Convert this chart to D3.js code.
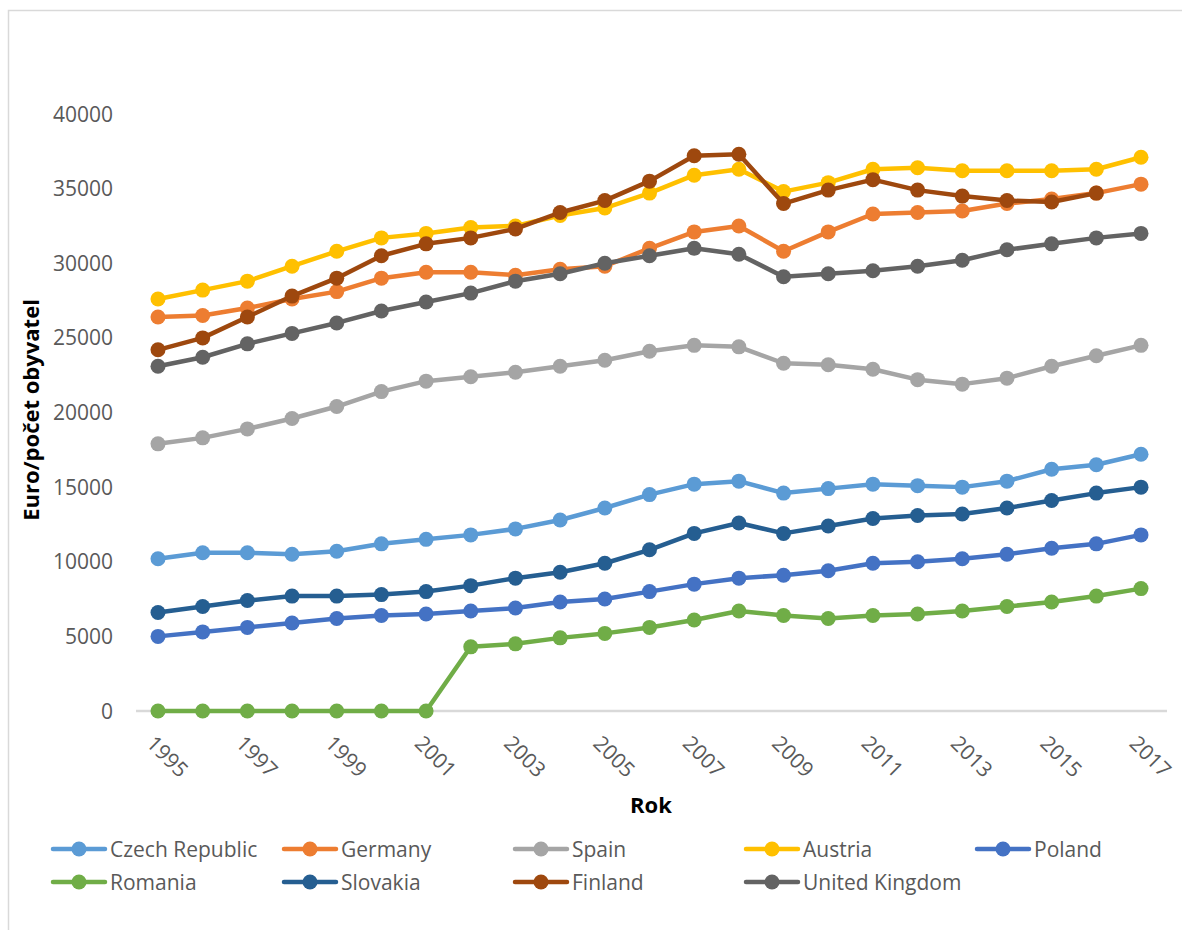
<!DOCTYPE html>
<html>
<head>
<meta charset="utf-8">
<script src="https://cdn.jsdelivr.net/npm/d3@7/dist/d3.min.js"></script>
<style>
body{
margin:0;
background:white;
font-family:"Open Sans",sans-serif;
}
</style>
</head>
<body>
<div id="chart"></div>
<script>
// years on the x axis
var years = d3.range(1995, 2018)
var tickYears = [1995,1997,1999,2001,2003,2005,2007,2009,2011,2013,2015,2017]
var yTicks = [0,5000,10000,15000,20000,25000,30000,35000,40000]

var seriesNames = ["Czech Republic","Germany","Spain","Austria","Poland","Romania","Slovakia","Finland","United Kingdom"]
var seriesColors = ["#5B9BD5","#ED7D31","#A5A5A5","#FFC000","#4472C4","#70AD47","#255E91","#9E480E","#636363"]

var czech = [10200,10600,10600,10500,10700,11200,11500,11800,12200,12800,13600,14500,15200,15400,14600,14900,15200,15100,15000,15400,16200,16500,17200]
var germany = [26400,26500,27000,27600,28100,29000,29400,29400,29200,29600,29800,31000,32100,32500,30800,32100,33300,33400,33500,34000,34300,34700,35300]
var spain = [17900,18300,18900,19600,20400,21400,22100,22400,22700,23100,23500,24100,24500,24400,23300,23200,22900,22200,21900,22300,23100,23800,24500]
var austria = [27600,28200,28800,29800,30800,31700,32000,32400,32500,33200,33700,34700,35900,36300,34800,35400,36300,36400,36200,36200,36200,36300,37100]
var poland = [5000,5300,5600,5900,6200,6400,6500,6700,6900,7300,7500,8000,8500,8900,9100,9400,9900,10000,10200,10500,10900,11200,11800]
var romania = [0,0,0,0,0,0,0,4300,4500,4900,5200,5600,6100,6700,6400,6200,6400,6500,6700,7000,7300,7700,8200]
var slovakia = [6600,7000,7400,7700,7700,7800,8000,8400,8900,9300,9900,10800,11900,12600,11900,12400,12900,13100,13200,13600,14100,14600,15000]
var finland = [24200,25000,26400,27800,29000,30500,31300,31700,32300,33400,34200,35500,37200,37300,34000,34900,35600,34900,34500,34200,34100,34700,null]
var uk = [23100,23700,24600,25300,26000,26800,27400,28000,28800,29300,30000,30500,31000,30600,29100,29300,29500,29800,30200,30900,31300,31700,32000]

var allValues = [czech,germany,spain,austria,poland,romania,slovakia,finland,uk]

var W = 1182, H = 930
var svg = d3.select("#chart").append("svg")
.attr("width",W)
.attr("height",H)

// chart border
svg.append("rect")
.attr("x",8.5).attr("y",10.5)
.attr("width",W).attr("height",H)
.attr("fill","none")
.attr("stroke","#d9d9d9")
.attr("stroke-width",1.5)

var x = d3.scaleLinear().domain([1995,2017]).range([158,1141])
var y = d3.scaleLinear().domain([0,40000]).range([711,114])

// zero baseline
svg.append("line")
.attr("x1",136).attr("x2",1167)
.attr("y1",y(0)).attr("y2",y(0))
.attr("stroke","#d9d9d9")
.attr("stroke-width",2.5)

// y tick labels
svg.selectAll(".ylab")
.data(yTicks)
.enter()
.append("text")
.attr("class","ylab")
.attr("x",113)
.attr("y",function(d){return y(d)})
.attr("dy","0.36em")
.attr("text-anchor","end")
.attr("font-size",21)
.attr("fill","#595959")
.text(function(d){return d})

// x tick labels, rotated
svg.selectAll(".xlab")
.data(tickYears)
.enter()
.append("text")
.attr("class","xlab")
.attr("transform",function(d){return "translate("+(x(d)-2)+",734) rotate(45)"})
.attr("dy","0.72em")
.attr("text-anchor","start")
.attr("font-size",21)
.attr("fill","#595959")
.text(function(d){return d})

// axis titles
svg.append("text")
.attr("transform","translate(39,410) rotate(-90)")
.attr("text-anchor","middle")
.attr("font-size",22)
.attr("font-weight","bold")
.attr("fill","black")
.text("Euro/počet obyvatel")

svg.append("text")
.attr("x",651).attr("y",813)
.attr("text-anchor","middle")
.attr("font-size",22)
.attr("font-weight","bold")
.attr("fill","black")
.text("Rok")

var line = d3.line()
.defined(function(d){return d != null})
.x(function(d,i){return x(years[i])})
.y(function(d){return y(d)})

allValues.forEach(function(vals,s){
var g = svg.append("g")
g.append("path")
.datum(vals)
.attr("d",line)
.attr("fill","none")
.attr("stroke",seriesColors[s])
.attr("stroke-width",4.5)
.attr("stroke-linejoin","round")
.attr("stroke-linecap","round")
g.selectAll("circle")
.data(vals.map(function(v,i){return {v:v,yr:years[i]}}).filter(function(d){return d.v != null}))
.enter()
.append("circle")
.attr("cx",function(d){return x(d.yr)})
.attr("cy",function(d){return y(d.v)})
.attr("r",7.5)
.attr("fill",seriesColors[s])
})

// legend, 5 columns
var legend = svg.selectAll(".leg")
.data(seriesNames)
.enter()
.append("g")
.attr("class","leg")
.attr("transform",function(d,i){
var col = i%5, row = Math.floor(i/5)
return "translate("+(51+col*231)+","+(849+row*33)+")"
})
legend.append("line")
.attr("x1",2).attr("x2",54)
.attr("stroke",function(d,i){return seriesColors[i]})
.attr("stroke-width",4.5)
.attr("stroke-linecap","round")
legend.append("circle")
.attr("cx",28).attr("r",7.5)
.attr("fill",function(d,i){return seriesColors[i]})
legend.append("text")
.attr("x",59)
.attr("dy","0.36em")
.attr("font-size",21)
.attr("fill","#595959")
.text(function(d){return d})
</script>
</body>
</html>
